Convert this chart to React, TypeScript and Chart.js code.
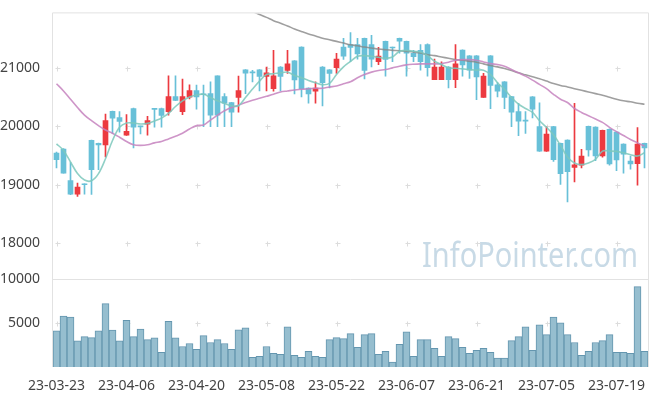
import React, { useEffect, useRef } from 'react';
import { Chart, registerables } from 'chart.js';

Chart.register(...registerables);

const dates = [
  '23-03-23','23-03-24','23-03-27','23-03-28','23-03-29','23-03-30','23-03-31','23-04-03','23-04-04','23-04-05',
  '23-04-06','23-04-07','23-04-10','23-04-11','23-04-12','23-04-13','23-04-14','23-04-17','23-04-18','23-04-19',
  '23-04-20','23-04-21','23-04-24','23-04-25','23-04-26','23-04-27','23-04-28','23-05-02','23-05-03','23-05-04',
  '23-05-08','23-05-09','23-05-10','23-05-11','23-05-12','23-05-15','23-05-16','23-05-17','23-05-18','23-05-19',
  '23-05-22','23-05-23','23-05-24','23-05-25','23-05-26','23-05-30','23-05-31','23-06-01','23-06-02','23-06-05',
  '23-06-07','23-06-08','23-06-09','23-06-12','23-06-13','23-06-14','23-06-15','23-06-16','23-06-19','23-06-20',
  '23-06-21','23-06-22','23-06-23','23-06-26','23-06-27','23-06-28','23-06-29','23-06-30','23-07-03','23-07-04',
  '23-07-05','23-07-06','23-07-07','23-07-10','23-07-11','23-07-12','23-07-13','23-07-14','23-07-17','23-07-18',
  '23-07-19','23-07-20','23-07-21','23-07-24','23-07-25'
];

const opens = [
  19542,19610,19070,18840,19010,19760,19710,19680,20255,20150,
  19850,20305,20000,20035,20300,20305,20250,20510,20250,20500,
  20610,20550,20560,20865,20510,20405,20495,20965,20920,20965,
  20855,20645,21015,20955,21120,21355,20655,20600,21015,20965,
  21005,21355,21400,21400,21505,21400,21105,21455,21350,21505,
  21455,21250,21300,21400,20800,20800,21015,20800,21305,21205,
  21205,20495,21205,20710,20760,20510,20250,20100,20505,19995,
  19575,19995,19710,19765,19295,19335,20000,19985,19495,19950,
  19900,19695,19405,19360,19710
];
const highs = [
  19560,19620,19380,19030,19015,19765,19715,20210,20260,20250,
  20200,20310,20005,20170,20305,20310,20865,20865,20810,20710,
  20707,20707,20760,20865,20560,20410,20860,20970,20960,20970,
  21015,21300,21020,21300,21125,21360,20660,20760,21020,20970,
  21250,21505,21605,21505,21510,21555,21350,21460,21355,21510,
  21460,21300,21400,21410,21150,21105,21020,21400,21310,21210,
  21210,20905,21210,20750,20765,20515,20395,20250,20510,20400,
  19990,20000,19715,19770,20395,19605,20005,19990,19935,19955,
  19905,19700,19490,19980,19715
];
const lows = [
  19290,19200,18830,18800,18840,18835,19260,19475,19880,19900,
  19845,19630,19870,19850,19985,19985,20190,20440,20200,20470,
  20295,19995,19995,19995,19995,19995,20240,20560,20760,20605,
  20605,20600,20605,20905,20555,20505,20395,20395,20350,20655,
  20905,21145,21105,21150,20810,21015,21055,20860,21105,21250,
  20860,21105,20960,20860,20800,20800,20655,20660,20860,20820,
  20455,20495,20300,20505,20300,19995,19840,19880,20145,19570,
  19570,19400,19005,18707,19050,19290,19490,19410,19470,19335,
  19240,19200,19265,18995,19290
];
const closes = [
  19430,19200,18840,18960,19000,19260,19680,20100,20140,20085,
  19915,19985,19990,20100,20290,20185,20510,20445,20510,20610,
  20505,20540,20190,20190,20395,20240,20610,20910,20915,20855,
  20915,20865,20855,21070,20795,20645,20555,20655,20745,20905,
  21150,21200,21350,21240,20955,21150,21200,21145,21340,21455,
  21250,21190,21105,21005,21015,21015,20800,21070,21050,20960,
  20845,20860,20700,20600,20495,20240,20090,20090,20295,19575,
  19865,19430,19190,19225,19340,19490,19595,19495,19930,19355,
  19425,19525,19355,19695,19630
];

const ma5 = [
  19700,19588,19390,19192,19080,19068,19190,19446,19757,19983,
  20056,20056,20039,20050,20090,20140,20220,20339,20436,20503,
  20537,20548,20492,20436,20390,20351,20351,20492,20638,20774,
  20887,20898,20915,20927,20870,20830,20785,20746,20712,20734,
  20887,21017,21110,21198,21209,21198,21181,21164,21186,21283,
  21300,21283,21271,21209,21113,21056,21000,20994,20983,20971,
  20961,20961,20887,20746,20633,20492,20378,20305,20237,20096,
  19983,19855,19673,19475,19373,19344,19373,19435,19576,19576,
  19571,19547,19514,19491,19547
];
const ma20 = [
  20729,20605,20463,20322,20191,20096,20012,19937,19881,19813,
  19740,19683,19673,19683,19717,19740,19785,19830,19881,19954,
  20012,20022,20107,20191,20266,20322,20361,20407,20446,20480,
  20514,20548,20588,20605,20622,20633,20644,20650,20650,20673,
  20690,20729,20763,20830,20887,20927,20954,20971,21000,21029,
  21051,21062,21068,21068,21068,21073,21096,21130,21141,21141,
  21130,21102,21073,21056,21029,20971,20915,20859,20791,20717,
  20644,20548,20463,20407,20305,20237,20181,20124,20068,19983,
  19910,19842,19774,19717,19661
];
const ma60 = [
  null,null,null,null,null,null,null,null,null,null,
  null,null,null,null,null,null,null,null,null,null,
  null,null,null,null,null,null,null,22020,21965,21915,
  21864,21808,21763,21717,21666,21622,21581,21547,21508,21480,
  21453,21424,21395,21378,21356,21339,21322,21310,21300,21294,
  21283,21271,21254,21225,21209,21186,21164,21141,21130,21113,
  21096,21068,21040,21017,20988,20954,20915,20881,20847,20814,
  20774,20734,20700,20673,20644,20616,20588,20559,20531,20497,
  20463,20436,20419,20395,20378
];

const volumes = [
  4110,5780,5670,2960,3440,3330,4110,7190,4180,2960,
  5300,3440,4300,3110,3300,1670,5190,3300,2330,2670,
  2000,3560,2780,3110,2670,2000,4220,4440,1110,1220,
  2330,1560,1440,4560,1330,1110,1780,1220,1110,3110,
  3330,3220,3780,2220,3670,3780,1440,1780,560,2560,
  4000,1220,3110,3110,2110,1220,3440,3220,2220,1560,
  1890,2110,1670,1000,1000,3000,3440,4560,1890,4780,
  3670,5670,5000,3670,2780,1330,1780,2780,3000,3670,
  1670,1670,1560,9110,1780
];

const priceTicks = [18000, 19000, 20000, 21000];
const volumeTicks = [5000, 10000];
const labelEvery = 10;
const watermark = 'InfoPointer.com';

const UP = '#ec3a40';
const DOWN = '#68c0d8';
const FONT = "'Noto Sans', 'Open Sans', sans-serif";

const decorPlugin = {
  id: 'decor',
  beforeDatasetsDraw(chart: any) {
    const { ctx, chartArea, scales } = chart;
    const x = scales.x, y = scales.y, yv = scales.yv;
    ctx.save();
    ctx.font = `34px ${FONT}`;
    ctx.fillStyle = 'rgba(190,212,226,0.85)';
    ctx.textBaseline = 'alphabetic';
    const w = ctx.measureText(watermark).width;
    const targetW = 216;
    ctx.translate(chartArea.right - 10 - targetW, y.bottom - 12);
    ctx.scale(targetW / w, 1);
    ctx.fillText(watermark, 0, 0);
    ctx.restore();

    ctx.save();
    ctx.strokeStyle = '#dcdcdc';
    ctx.lineWidth = 1;
    const drawPlus = (px: number, py: number) => {
      const cx = Math.round(px) + 0.5, cy = Math.round(py) + 0.5;
      ctx.beginPath();
      ctx.moveTo(cx - 2, cy); ctx.lineTo(cx + 3, cy);
      ctx.moveTo(cx, cy - 2); ctx.lineTo(cx, cy + 3);
      ctx.stroke();
    };
    for (let i = 0; i < dates.length; i += labelEvery) {
      const px = x.getPixelForValue(i);
      priceTicks.forEach(v => drawPlus(px, y.getPixelForValue(v)));
      drawPlus(px, yv.getPixelForValue(volumeTicks[0]));
    }
    ctx.restore();
  },
  afterDatasetsDraw(chart: any) {
    const { ctx, chartArea, scales } = chart;
    const yv = scales.yv;
    ctx.save();
    ctx.strokeStyle = '#e2e2e2';
    ctx.lineWidth = 1;
    ctx.beginPath();
    ctx.moveTo(chartArea.left - 0.5, chartArea.top - 0.5);
    ctx.lineTo(chartArea.right + 0.5, chartArea.top - 0.5);
    ctx.moveTo(chartArea.left - 0.5, chartArea.top - 0.5);
    ctx.lineTo(chartArea.left - 0.5, chartArea.bottom);
    ctx.moveTo(chartArea.right + 0.5, chartArea.top - 0.5);
    ctx.lineTo(chartArea.right + 0.5, chartArea.bottom);
    const sy = Math.round(yv.getPixelForValue(volumeTicks[1])) + 0.5;
    ctx.moveTo(chartArea.left, sy);
    ctx.lineTo(chartArea.right, sy);
    ctx.stroke();
    ctx.restore();
  }
};

export default function App() {
  const ref = useRef<HTMLCanvasElement | null>(null);

  useEffect(() => {
    if (!ref.current) return;
    const colors = opens.map((o, i) => (closes[i] > o ? UP : DOWN));
    const plain = (v: any) => String(v);
    const chart = new Chart(ref.current, {
      type: 'bar',
      data: {
        labels: dates,
        datasets: [
          {
            type: 'line', label: 'MA5', data: ma5, yAxisID: 'y',
            borderColor: 'rgba(125,200,188,0.85)', borderWidth: 1.6,
            pointRadius: 0, tension: 0.35, order: 0,
          } as any,
          {
            type: 'line', label: 'MA20', data: ma20, yAxisID: 'y',
            borderColor: 'rgba(198,130,190,0.85)', borderWidth: 1.6,
            pointRadius: 0, tension: 0.35, order: 0,
          } as any,
          {
            type: 'line', label: 'MA60', data: ma60, yAxisID: 'y',
            borderColor: 'rgba(135,135,135,0.8)', borderWidth: 1.6,
            pointRadius: 0, tension: 0.35, order: 0,
          } as any,
          {
            type: 'bar', label: 'body', yAxisID: 'y',
            data: opens.map((o, i) => [o, closes[i]]),
            backgroundColor: colors, borderWidth: 0,
            barThickness: 5, grouped: false, minBarLength: 1, order: 1,
          } as any,
          {
            type: 'bar', label: 'wick', yAxisID: 'y',
            data: lows.map((l, i) => [l, highs[i]]),
            backgroundColor: colors, borderWidth: 0,
            barThickness: 1, grouped: false, order: 2,
          } as any,
          {
            type: 'bar', label: 'volume', yAxisID: 'yv',
            data: volumes,
            backgroundColor: 'rgba(150,190,207,1)',
            borderColor: 'rgba(100,150,175,1)', borderWidth: 1,
            categoryPercentage: 1, barPercentage: 1, grouped: false, order: 3,
          } as any,
        ],
      },
      options: {
        responsive: false,
        animation: false,
        devicePixelRatio: 1,
        layout: { padding: { top: 10, right: 9, left: 0, bottom: 0 } },
        plugins: { legend: { display: false }, tooltip: { enabled: false } },
        scales: {
          x: {
            type: 'category', offset: true,
            grid: { display: false }, border: { display: false },
            ticks: {
              autoSkip: false, maxRotation: 0, minRotation: 0, padding: 3,
              color: '#444', font: { family: FONT, size: 14 },
              callback: (_v: any, i: number) => (i % labelEvery === 0 ? dates[i] : ''),
            },
            afterFit: (s: any) => { s.height = 29; },
          },
          yv: {
            type: 'linear', position: 'left', stack: 'main', stackWeight: 89,
            min: 0, max: 10000,
            grid: { display: false }, border: { display: false },
            ticks: { padding: 5, color: '#444', font: { family: FONT, size: 14 }, callback: plain },
            afterBuildTicks: (s: any) => { s.ticks = volumeTicks.map(v => ({ value: v })); },
            afterFit: (s: any) => { s.width = 53; },
          },
          y: {
            type: 'linear', position: 'left', stack: 'main', stackWeight: 268,
            min: 17390, max: 21932,
            grid: { display: false }, border: { display: false },
            ticks: { padding: 5, color: '#444', font: { family: FONT, size: 14 }, callback: plain },
            afterBuildTicks: (s: any) => { s.ticks = priceTicks.map(v => ({ value: v })); },
            afterFit: (s: any) => { s.width = 53; },
          },
        },
      } as any,
      plugins: [decorPlugin],
    });
    return () => chart.destroy();
  }, []);

  return (
    <div style={{ position: 'fixed', left: 0, top: 0, width: 657, height: 396, background: '#fff' }}>
      <canvas ref={ref} width={657} height={396} />
    </div>
  );
}
